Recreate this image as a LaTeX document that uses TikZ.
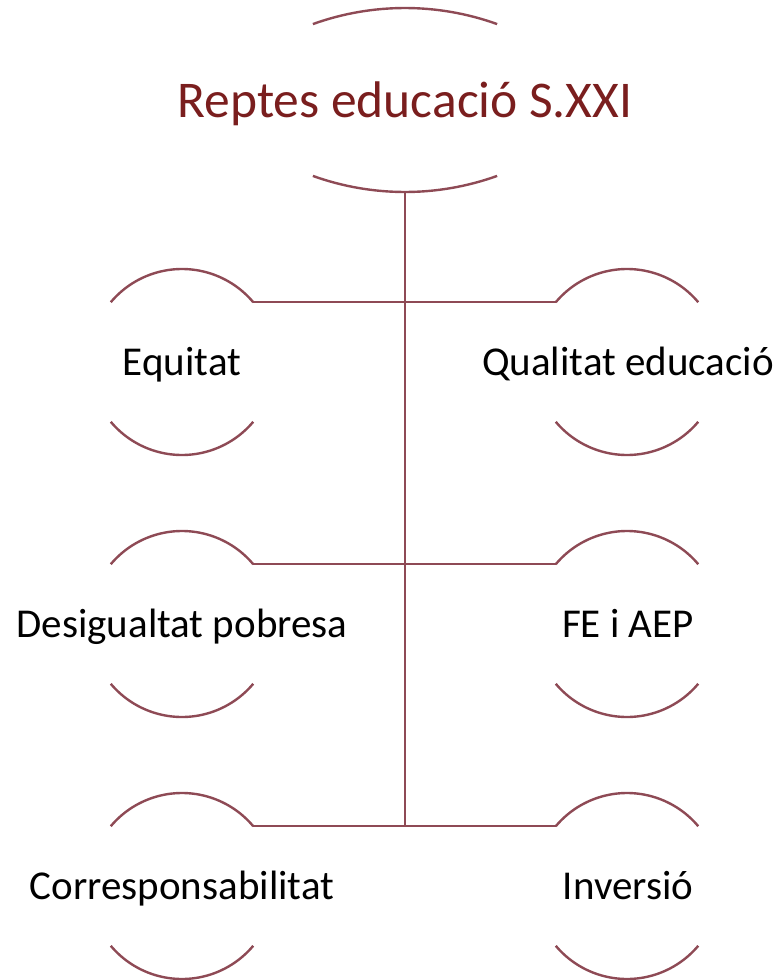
\documentclass[tikz,border=0pt]{standalone}
\usepackage{fontspec}
\setmainfont{Carlito}
\definecolor{linec}{HTML}{8E4A55}
\definecolor{titlec}{HTML}{7A1E1E}
\begin{document}
\begin{tikzpicture}[x=1pt,y=-1pt,
  arcline/.style={draw=linec, line width=2.4pt},
  childtext/.style={font=\fontsize{41}{41}\selectfont, anchor=base, inner sep=0pt, text=black},
  titletext/.style={font=\fontsize{51.5}{51.5}\selectfont, anchor=base, inner sep=0pt, text=titlec}]
\useasboundingbox (0,0) rectangle (784,980);
% title
\coordinate (ttop) at (405,280);
\coordinate (tbotc) at (405,-80);
\coordinate (tbot) at (405,192);
\node[titletext] (title) at (405,117) {Reptes educació S.XXI};
\draw[arcline] ([shift={(70.2:272pt)}]ttop) arc[start angle=70.2, end angle=109.8, radius=272pt];
\draw[arcline] ([shift={(250.2:272pt)}]tbotc) arc[start angle=250.2, end angle=289.8, radius=272pt];
% circle centres
\coordinate (cL1) at (182,362);
\coordinate (cR1) at (627,362);
\coordinate (cL2) at (182,624);
\coordinate (cR2) at (627,624);
\coordinate (cL3) at (182,886);
\coordinate (cR3) at (627,886);
\coordinate (vend) at (405,826.2);
% texts
\node[childtext] (eq) at (182,375) {Equitat};
\node[childtext] (qe) at (628,375) {Qualitat educació};
\node[childtext] (dp) at (182,637) {Desigualtat pobresa};
\node[childtext] (fe) at (628,637) {FE i AEP};
\node[childtext] (co) at (182,899) {Corresponsabilitat};
\node[childtext] (in) at (628,899) {Inversió};
% arcs
\foreach \c in {cL1,cR1,cL2,cR2,cL3,cR3}{
  \draw[arcline] ([shift={(40:93pt)}]\c) arc[start angle=40, end angle=140, radius=93pt];
  \draw[arcline] ([shift={(220:93pt)}]\c) arc[start angle=220, end angle=320, radius=93pt];
}
% connectors
\draw[arcline] (tbot) -- (vend);
\foreach \r in {1,2,3}{
  \draw[arcline] ([shift={(40:93pt)}]cL\r) -- ([shift={(140:93pt)}]cR\r);
}
\end{tikzpicture}
\end{document}
